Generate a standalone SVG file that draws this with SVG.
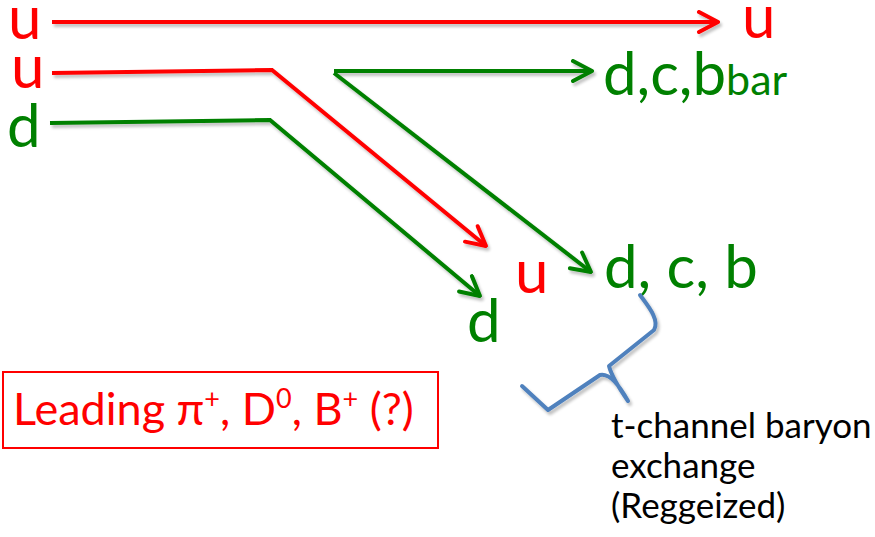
<svg xmlns="http://www.w3.org/2000/svg" width="875" height="537" viewBox="0 0 875 537">
<style>
.t{font-family:Lato,"Liberation Sans",sans-serif}
.r{fill:#FF0000}
.g{fill:#008000}
.k{fill:#000}
.lr{stroke:#FF0000;stroke-width:4;fill:none;stroke-linecap:butt}
.lg{stroke:#008000;stroke-width:4;fill:none;stroke-linecap:butt}
.big{font-size:60px}
</style>
<defs>
<filter id="sh" x="-10%" y="-10%" width="130%" height="130%">
<feGaussianBlur in="SourceAlpha" stdDeviation="1.5"/>
<feOffset dx="2" dy="3" result="b"/>
<feComponentTransfer><feFuncA type="linear" slope="0.25"/></feComponentTransfer>
<feMerge><feMergeNode/><feMergeNode in="SourceGraphic"/></feMerge>
</filter>
<marker id="ar" viewBox="0 0 24 24" refX="22" refY="12" markerWidth="24" markerHeight="24" markerUnits="userSpaceOnUse" orient="auto">
<path d="M3,2 L22,12 L3,22" fill="none" stroke="#FF0000" stroke-width="4" stroke-linecap="round" stroke-linejoin="round"/>
</marker>
<marker id="ag" viewBox="0 0 24 24" refX="22" refY="12" markerWidth="24" markerHeight="24" markerUnits="userSpaceOnUse" orient="auto">
<path d="M3,2 L22,12 L3,22" fill="none" stroke="#008000" stroke-width="4" stroke-linecap="round" stroke-linejoin="round"/>
</marker>
</defs>
<g id="connectors" filter="url(#sh)">
<path class="lr" d="M52,22 L718,22" marker-end="url(#ar)"/>
<path class="lr" d="M52,73 L272,70 L486,246" marker-end="url(#ar)"/>
<path class="lg" d="M50,123 L270,120 L480,296" marker-end="url(#ag)"/>
<path class="lg" d="M334,71 L592,71" marker-end="url(#ag)"/>
<path class="lg" d="M334,73 L591,272" marker-end="url(#ag)"/>
</g>
<g id="in-u1"><text class="t r big" x="8" y="39">u</text></g>
<g id="in-u2"><text class="t r big" x="11" y="88">u</text></g>
<g id="in-d"><text class="t g big" x="7" y="147">d</text></g>
<g id="out-u"><text class="t r big" x="742" y="38">u</text></g>
<g id="out-dcb-bar"><text class="t g" x="603" y="95"><tspan class="big">d,c,b</tspan><tspan font-size="43px">bar</tspan></text></g>
<g id="out-dcb"><text class="t g big" x="604" y="288">d, c, b</text></g>
<g id="out-u-mid"><text class="t r big" x="515" y="293">u</text></g>
<g id="out-d-low"><text class="t g big" x="467" y="342">d</text></g>
<g id="leading">
<rect x="3" y="372" width="435" height="76" fill="none" stroke="#FF0000" stroke-width="2"/>
<text class="t r" x="13" y="425" font-size="45px">Leading π<tspan font-size="27px" dy="-17">+</tspan><tspan dy="17">, D</tspan><tspan font-size="27px" dy="-17">0</tspan><tspan dy="17">, B</tspan><tspan font-size="27px" dy="-17">+</tspan><tspan dy="17"> (?)</tspan></text>
</g>
<g id="brace">
<path d="M640,295 C648,306 660,320 654,330 L609,366 Q612,378 628,401 M628,401 Q612,372 600,375 L548,410 L522,386" fill="none" stroke="#4F81BD" stroke-width="4" stroke-linejoin="round" stroke-linecap="round" filter="url(#sh)"/>
</g>
<g id="label">
<text class="t k" x="611" y="438" font-size="35px">t-channel baryon</text>
<text class="t k" x="611" y="478" font-size="35px">exchange</text>
<text class="t k" x="611" y="518" font-size="35px">(Reggeized)</text>
</g>
</svg>
